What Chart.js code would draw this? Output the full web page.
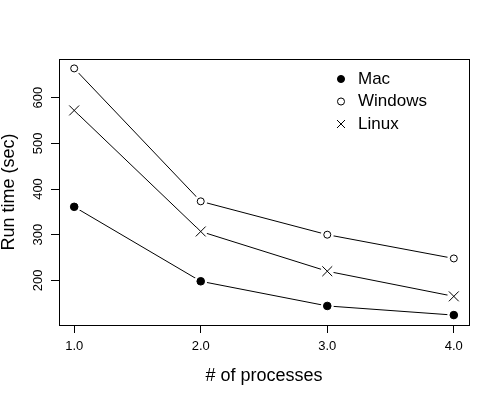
<!DOCTYPE html>
<html><head><meta charset="utf-8">
<script src="https://cdn.jsdelivr.net/npm/chart.js@4/dist/chart.umd.min.js"></script>
<style>html,body{margin:0;padding:0;background:#fff}#wrap{width:500px;height:400px;position:relative}</style>
</head><body><div id="wrap"><canvas id="c"></canvas></div>
<script>
const processes = [1, 2, 3, 4];
const xTickValues = [1, 2, 3, 4];
const yTickValues = [200, 300, 400, 500, 600];
const seriesNames = ['Mac', 'Windows', 'Linux'];
const macTimes = [361, 198, 144, 124];
const windowsTimes = [664, 373, 300, 248];
const linuxTimes = [572, 307, 220, 165];
const xLabel = '# of processes';
const yLabel = 'Run time (sec)';

const FONT = "'Liberation Sans', Arial, sans-serif";
const toPts = vals => vals.map((v, i) => ({x: processes[i], y: v}));

// legend glyph for the cross marker (larger than the shared legend radius allows)
const crossGlyph = document.createElement('canvas');
crossGlyph.width = 10; crossGlyph.height = 10;
(function () {
  const g = crossGlyph.getContext('2d');
  g.strokeStyle = '#000'; g.lineWidth = 1;
  g.beginPath(); g.moveTo(1, 1); g.lineTo(9, 9); g.moveTo(9, 1); g.lineTo(1, 9); g.stroke();
})();

const markerStyles = [
  {pointStyle: 'circle', pointRadius: 3.8, pointBackgroundColor: '#000', pointBorderColor: '#000', pointBorderWidth: 1, backgroundColor: '#000'},
  {pointStyle: 'circle', pointRadius: 3.5, pointBackgroundColor: '#fff', pointBorderColor: '#000', pointBorderWidth: 1, backgroundColor: '#fff'},
  {pointStyle: 'crossRot', pointRadius: 7, pointBackgroundColor: '#000', pointBorderColor: '#000', pointBorderWidth: 1, backgroundColor: '#000'}
];
const seriesValues = [macTimes, windowsTimes, linuxTimes];

const markerSets = seriesValues.map((vals, k) => Object.assign({
  label: seriesNames[k], data: toPts(vals), showLine: false,
  borderColor: '#000', borderWidth: 1, pointHoverRadius: markerStyles[k].pointRadius
}, markerStyles[k]));
const lineSets = seriesValues.map((vals, k) => ({
  label: seriesNames[k] + ' line', data: toPts(vals), showLine: true,
  borderColor: '#000', borderWidth: 1, tension: 0, fill: false,
  pointStyle: 'circle', pointRadius: 6.5, pointHoverRadius: 6.5,
  pointBackgroundColor: '#fff', pointBorderWidth: 0, pointBorderColor: 'rgba(0,0,0,0)'
}));

const boxPlugin = {
  id: 'plotBox',
  afterLayout(chart) {
    const lg = chart.legend;
    if (lg) {
      const w = lg.width, h = lg.height;
      lg.left = 327; lg.right = 327 + w; lg.top = 65; lg.bottom = 65 + h;
    }
  },
  beforeDatasetsDraw(chart) {
    const a = chart.chartArea, ctx = chart.ctx;
    ctx.save();
    ctx.strokeStyle = '#000'; ctx.lineWidth = 1;
    const l = Math.round(a.left) + 0.5, t = Math.round(a.top) + 0.5;
    const r = Math.round(a.right) + 0.5, b = Math.round(a.bottom) + 0.5;
    ctx.strokeRect(l, t, r - l, b - t);
    ctx.restore();
  }
};

new Chart(document.getElementById('c'), {
  type: 'line',
  data: {datasets: markerSets.concat(lineSets)},
  options: {
    responsive: true, maintainAspectRatio: false, animation: false,
    events: [],
    layout: {padding: {top: 59, right: 31, bottom: 0, left: 0}},
    plugins: {
      tooltip: {enabled: false},
      legend: {
        position: 'chartArea', align: 'start',
        labels: {
          usePointStyle: true, boxWidth: 21, boxHeight: 5, padding: 5.5,
          color: '#000', textAlign: 'left',
          font: {family: FONT, size: 17},
          filter: (item) => item.datasetIndex < 3,
          generateLabels: (chart) => {
            const items = Chart.defaults.plugins.legend.labels.generateLabels(chart);
            items.forEach(it => { if (it.text === seriesNames[2]) it.pointStyle = crossGlyph; });
            return items;
          }
        }
      }
    },
    scales: {
      x: {
        type: 'linear', position: 'bottom', min: 0.88, max: 4.12,
        afterBuildTicks: s => { s.ticks = xTickValues.map(v => ({value: v})); },
        afterFit: s => { s.height = 75; },
        grid: {display: true, drawOnChartArea: false, drawTicks: true, tickLength: 8, color: '#000', lineWidth: 1},
        border: {display: true, color: '#000', width: 1},
        ticks: {color: '#000', font: {family: FONT, size: 13}, padding: 6, maxRotation: 0, autoSkip: false,
          callback: v => Number(v).toFixed(1)},
        title: {display: true, text: xLabel, color: '#000', font: {family: FONT, size: 18, lineHeight: 1}, padding: {top: 0, bottom: 15}}
      },
      y: {
        type: 'linear', position: 'left', min: 102.3, max: 684.6,
        afterBuildTicks: s => { s.ticks = yTickValues.map(v => ({value: v})); },
        afterFit: s => { s.width = 59; },
        grid: {display: true, drawOnChartArea: false, drawTicks: true, tickLength: 8, color: '#000', lineWidth: 1},
        border: {display: true, color: '#000', width: 1},
        ticks: {color: '#000', font: {family: FONT, size: 13}, padding: 2, minRotation: 90, maxRotation: 90,
          crossAlign: 'center', autoSkip: false, callback: v => String(v)},
        title: {display: true, text: yLabel, color: '#000', font: {family: FONT, size: 18, lineHeight: 1}, padding: {top: 0, bottom: 0}}
      }
    }
  },
  plugins: [boxPlugin]
});
</script>
</body></html>
